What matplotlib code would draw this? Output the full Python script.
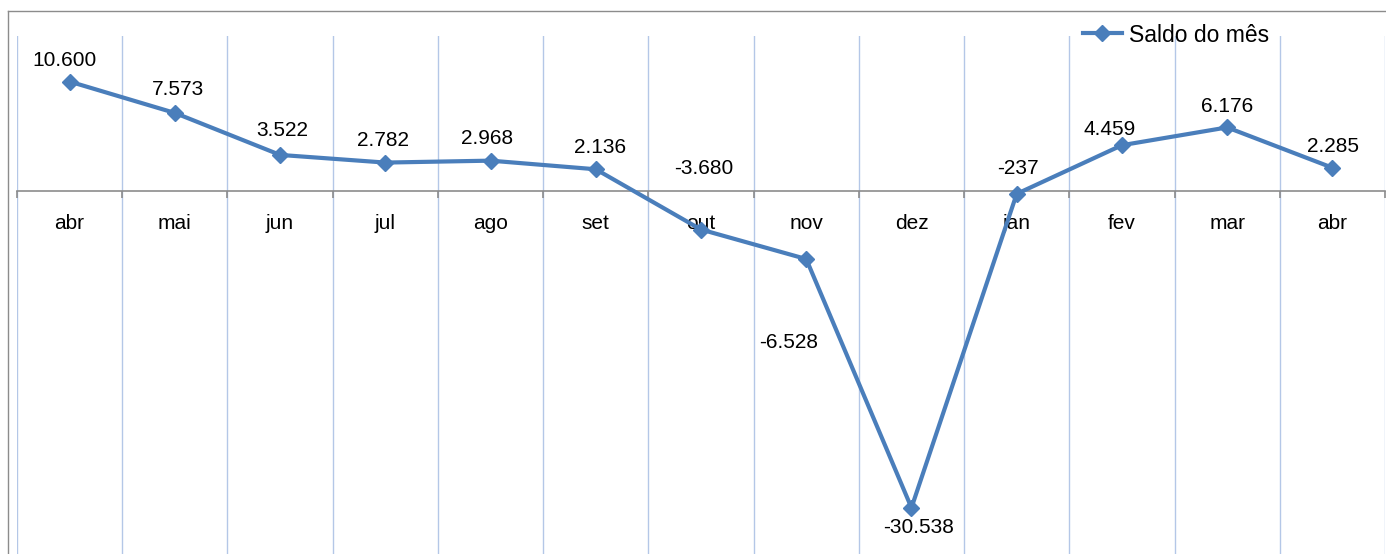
import matplotlib as mpl
mpl.use('Agg')
import matplotlib.pyplot as plt
from matplotlib.lines import Line2D

plt.rcParams['font.family'] = ['Liberation Sans', 'DejaVu Sans']

months = ['abr', 'mai', 'jun', 'jul', 'ago', 'set', 'out', 'nov', 'dez', 'jan', 'fev', 'mar', 'abr']
saldo = [10600, 7573, 3522, 2782, 2968, 2136, -3680, -6528, -30538, -237, 4459, 6176, 2285]
labels = ['10.600', '7.573', '3.522', '2.782', '2.968', '2.136', '-3.680', '-6.528',
          '-30.538', '-237', '4.459', '6.176', '2.285']
# label offsets in pixels (dx, dy)
offsets = [(-5, 21), (3, 23), (2, 24), (-2, 22), (-3, 22), (4, 22), (3, 61),
           (-18, -83), (7, -20), (1, 25), (-12, 16), (0, 21), (1, 21)]

blue = '#4a7ebb'
W, H = 1386, 554
fig = plt.figure(figsize=(W / 100, H / 100), dpi=100)

# outer chart frame (only top and left visible)
fig.add_artist(Line2D([8 / W, 8 / W], [0, 1 - 11 / H], color='#8c8c8c', lw=1))
fig.add_artist(Line2D([8 / W, 1], [1 - 11 / H, 1 - 11 / H], color='#8c8c8c', lw=1))

ax = fig.add_axes([17 / W, 0, 1368 / W, 1 - 36 / H])
x = list(range(len(months)))
ax.plot(x, saldo, color=blue, lw=3, marker='D', ms=8, label='Saldo do mês', zorder=3)

for i in x:
    ax.annotate(labels[i], (i, saldo[i]), xytext=offsets[i], textcoords='offset pixels',
                ha='center', va='center', fontsize=15)

ax.set_xlim(-0.5, len(months) - 0.5)
ax.set_ylim(-35000, 15000)

ax.set_xticks(x)
ax.set_xticklabels(months)
ax.set_xticks([i - 0.5 for i in range(len(months) + 1)], minor=True)
ax.tick_params(axis='x', which='major', length=0, pad=16, labelsize=15)
ax.tick_params(axis='x', which='minor', length=5, color='#8c8c8c', width=1.2)
ax.grid(axis='x', which='minor', color='#b4c7e7', lw=1)
ax.set_yticks([])

ax.spines['bottom'].set_position(('data', 0))
ax.spines['bottom'].set_color('#8c8c8c')
ax.spines['bottom'].set_linewidth(1.2)
for s in ['top', 'left', 'right']:
    ax.spines[s].set_visible(False)

fig.legend(loc='center left', bbox_to_anchor=(1083 / W, 1 - 35 / H), frameon=False,
           fontsize=16.5, handlelength=1.7, handletextpad=0.3, borderpad=0, borderaxespad=0)

plt.savefig('out.png', dpi=100)
